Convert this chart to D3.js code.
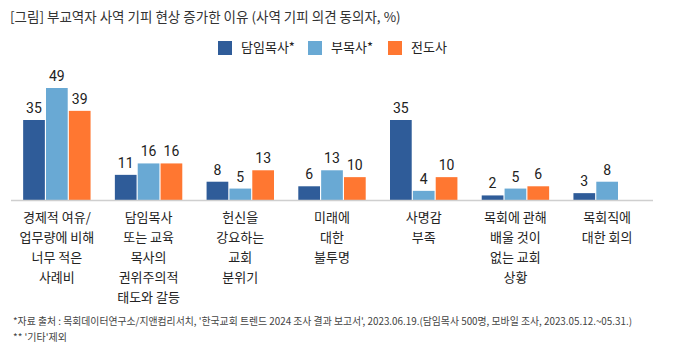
<!DOCTYPE html>
<html>
<head>
<meta charset="utf-8">
<script src="https://cdn.jsdelivr.net/npm/d3@7"></script>
<style>
  body { margin: 0; background: #fff; }
  svg { display: block; font-family: "Noto Sans CJK KR", "Noto Sans", sans-serif; }
</style>
</head>
<body>
<div id="chart"></div>
<script>
// categories (label lines) and series values
const categories = [
    ["경제적 여유/", "업무량에 비해", "너무 적은", "사례비"],
    ["담임목사", "또는 교육", "목사의", "권위주의적", "태도와 갈등"],
    ["헌신을", "강요하는", "교회", "분위기"],
    ["미래에", "대한", "불투명"],
    ["사명감", "부족"],
    ["목회에 관해", "배울 것이", "없는 교회", "상황"],
    ["목회직에", "대한 회의"]
];
const seriesNames = ["담임목사*", "부목사*", "전도사"];
const seniorPastor = [35, 11, 8, 6, 35, 2, 3];
const associatePastor = [49, 16, 5, 13, 4, 5, 8];
const evangelist = [39, 16, 13, 10, 10, 6, null];
const colors = ["#2f5c99", "#69a9d4", "#ff7731"];

const title = "[그림] 부교역자 사역 기피 현상 증가한 이유 (사역 기피 의견 동의자, %)";
const notes = [
    "*자료 출처 : 목회데이터연구소/지앤컴리서치, '한국교회 트렌드 2024 조사 결과 보고서', 2023.06.19.(담임목사 500명, 모바일 조사, 2023.05.12.~05.31.)",
    "** '기타'제외"
];

const width = 674, height = 354;
const series = [seniorPastor, associatePastor, evangelist];

const svg = d3.select("#chart").append("svg")
    .attr("width", width)
    .attr("height", height);

// title
svg.append("text")
    .attr("x", 10)
    .attr("y", 22)
    .attr("font-size", 13.5)
    .attr("fill", "#333")
    .text(title);

// legend
const legendX = [218, 308, 388];
const legend = svg.append("g");
seriesNames.forEach((name, i) => {
    legend.append("rect")
        .attr("x", legendX[i])
        .attr("y", 41)
        .attr("width", 14)
        .attr("height", 14)
        .attr("fill", colors[i]);
    legend.append("text")
        .attr("x", legendX[i] + 23)
        .attr("y", 52)
        .attr("font-size", 13)
        .attr("fill", "#222")
        .text(name);
});

// scales
const x0 = d3.scaleBand()
    .domain(d3.range(categories.length))
    .range([11, 653])
    .paddingInner(0.24)
    .paddingOuter(0.12);

const x1 = d3.scaleBand()
    .domain(d3.range(series.length))
    .range([0, x0.bandwidth()])
    .padding(0.05);

const y = d3.scaleLinear()
    .domain([0, 49])
    .range([200, 88]);

// bars
const groups = svg.selectAll(".group")
    .data(categories.map((c, i) => i))
    .enter().append("g")
    .attr("class", "group")
    .attr("transform", i => `translate(${x0(i)},0)`);

const cells = groups.selectAll(".cell")
    .data(i => series.map((s, k) => ({k: k, v: s[i]})).filter(d => d.v != null))
    .enter();

cells.append("rect")
    .attr("x", d => x1(d.k))
    .attr("y", d => y(d.v))
    .attr("width", x1.bandwidth())
    .attr("height", d => y(0) - y(d.v))
    .attr("fill", d => colors[d.k]);

cells.append("text")
    .attr("x", d => x1(d.k) + x1.bandwidth() / 2)
    .attr("y", d => y(d.v) - 7)
    .attr("text-anchor", "middle")
    .attr("font-family", "Roboto, 'Noto Sans', sans-serif")
    .attr("font-size", 14)
    .attr("fill", "#222")
    .text(d => d.v);

// baseline
svg.append("line")
    .attr("x1", 11)
    .attr("x2", 653)
    .attr("y1", y(0) + 0.5)
    .attr("y2", y(0) + 0.5)
    .attr("stroke", "#cfcfcf")
    .attr("stroke-width", 1.5);

// category labels
categories.forEach((lines, i) => {
    const t = svg.append("text")
        .attr("text-anchor", "middle")
        .attr("font-size", 13)
        .attr("fill", "#222");
    lines.forEach((line, j) => {
        t.append("tspan")
            .attr("x", x0(i) + x0.bandwidth() / 2)
            .attr("y", 222 + j * 20)
            .text(line);
    });
});

// footnotes
svg.append("text")
    .attr("x", 13)
    .attr("y", 325)
    .attr("font-size", 10)
    .attr("fill", "#444")
    .attr("textLength", 619)
    .attr("lengthAdjust", "spacingAndGlyphs")
    .text(notes[0]);

svg.append("text")
    .attr("x", 13)
    .attr("y", 341)
    .attr("font-size", 10)
    .attr("fill", "#444")
    .text(notes[1]);
</script>
</body>
</html>
